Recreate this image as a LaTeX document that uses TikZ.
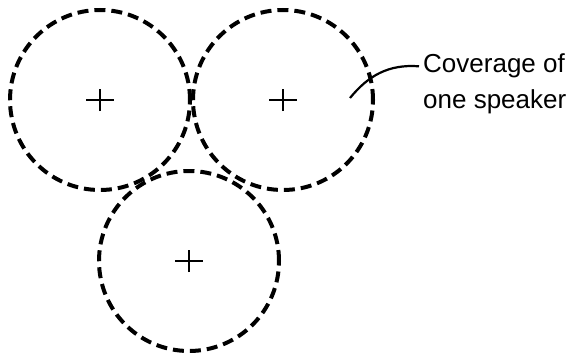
\documentclass[tikz,border=0pt]{standalone}
\usepackage{fontspec}
\setmainfont{Liberation Sans}
\usetikzlibrary{positioning}

\begin{document}
\begin{tikzpicture}[x=1pt, y=-1pt,
    zone/.style={circle, draw, dash pattern=on 11pt off 6pt, line width=4pt,
        minimum size=180pt, inner sep=0pt},
    plus/.style={line width=2.2pt},
    lbl/.style={font=\fontsize{26}{30}\selectfont, inner sep=4pt, anchor=base west},
    lead/.style={line width=2.2pt}
]
\useasboundingbox (0,0) rectangle (567,353);
\node[zone] (spk1) at (100,100) {};
\node[zone] (spk2) at (283,100) {};
\node[zone] (spk3) at (189,261) {};
\foreach \s in {spk1,spk2,spk3} {
    \draw[plus] ([xshift=-14pt]\s.center) -- ([xshift=14pt]\s.center);
    \draw[plus] ([yshift=-11pt]\s.center) -- ([yshift=11pt]\s.center);
}
\node[lbl] (cov) at (419,73) {Coverage of};
\node[lbl] (spk) at (419,108) {one speaker};
\coordinate (tail) at (350,98);
\draw[lead] (tail) .. controls (368,76) and (388,64) .. (cov.west);
\end{tikzpicture}
\end{document}
